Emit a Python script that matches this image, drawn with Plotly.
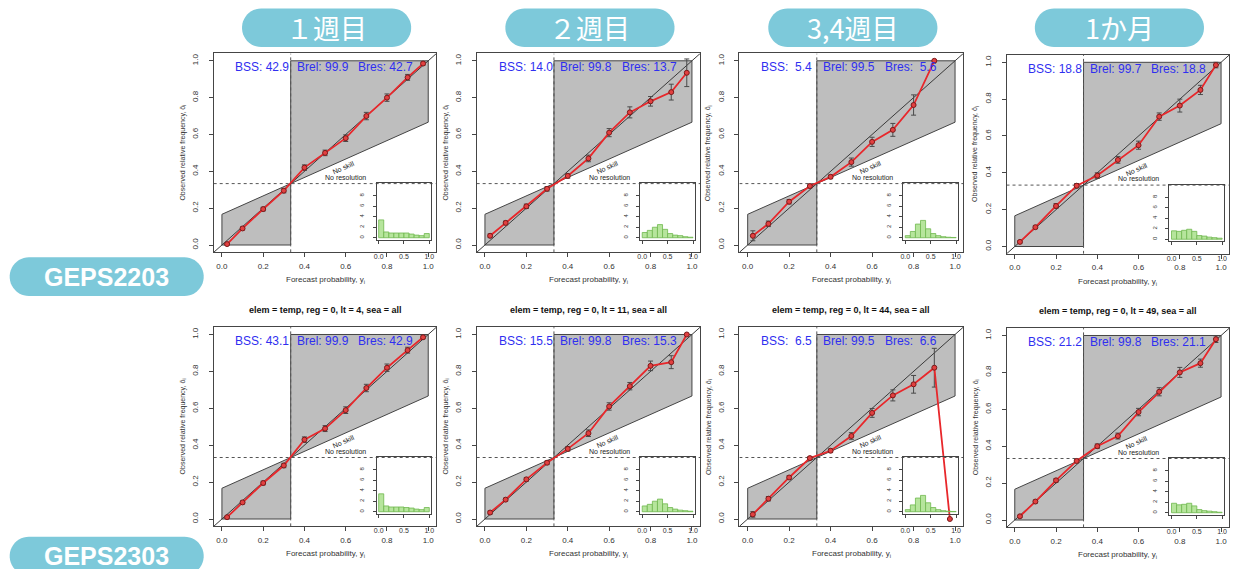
import numpy as np
import plotly.graph_objects as go

W, H = 1237, 569

# ---------------------------------------------------------------- data
prob_bins = [0.025, 0.1, 0.2, 0.3, 0.4, 0.5, 0.6, 0.7, 0.8, 0.9, 0.975]
hist_centers = [0.05, 0.15, 0.25, 0.35, 0.45, 0.55, 0.65, 0.75, 0.85, 0.95]
climatology = 1.0 / 3.0

col_titles = ["１週目", "２週目", "3,4週目", "1か月"]
row_titles = ["GEPS2203", "GEPS2303"]
lead_times = [4, 11, 44, 49]

# GEPS2203 : observed relative frequency, error half-width, forecast histogram
obs_2203_w1 = [0.005, 0.09, 0.195, 0.295, 0.42, 0.50, 0.58, 0.70, 0.80, 0.91, 0.985]
err_2203_w1 = [0.005, 0.008, 0.01, 0.012, 0.015, 0.015, 0.018, 0.02, 0.02, 0.016, 0.008]
hist_2203_w1 = [3.4, 1.1, 0.9, 0.9, 0.9, 0.9, 0.7, 0.5, 0.4, 0.8]

obs_2203_w2 = [0.05, 0.12, 0.21, 0.305, 0.375, 0.47, 0.61, 0.72, 0.78, 0.83, 0.935]
err_2203_w2 = [0.01, 0.01, 0.012, 0.012, 0.012, 0.018, 0.022, 0.03, 0.026, 0.043, 0.075]
hist_2203_w2 = [1.0, 1.4, 2.0, 2.5, 1.6, 0.8, 0.5, 0.4, 0.2, 0.1]

obs_2203_w34 = [0.05, 0.115, 0.235, 0.32, 0.37, 0.45, 0.56, 0.625, 0.76, 1.0, None]
err_2203_w34 = [0.027, 0.015, 0.012, 0.01, 0.01, 0.022, 0.025, 0.035, 0.055, 0.0, 0.0]
hist_2203_w34 = [0.4, 1.2, 2.6, 3.3, 1.7, 0.8, 0.4, 0.2, 0.1, 0.05]

obs_2203_m1 = [0.025, 0.105, 0.22, 0.33, 0.385, 0.47, 0.55, 0.705, 0.765, 0.85, 0.985]
err_2203_m1 = [0.006, 0.008, 0.013, 0.012, 0.015, 0.018, 0.022, 0.02, 0.035, 0.025, 0.015]
hist_2203_m1 = [1.6, 1.5, 1.7, 1.9, 1.5, 0.7, 0.6, 0.4, 0.3, 0.2]

# GEPS2303
obs_2303_w1 = [0.01, 0.09, 0.195, 0.29, 0.43, 0.49, 0.59, 0.71, 0.82, 0.915, 0.985]
err_2303_w1 = [0.005, 0.008, 0.01, 0.012, 0.015, 0.016, 0.018, 0.02, 0.02, 0.016, 0.008]
hist_2303_w1 = [3.4, 1.1, 0.9, 0.9, 0.9, 0.8, 0.7, 0.5, 0.4, 0.8]

obs_2303_w2 = [0.035, 0.105, 0.215, 0.305, 0.38, 0.465, 0.61, 0.72, 0.83, 0.85, 1.0]
err_2303_w2 = [0.008, 0.008, 0.01, 0.01, 0.012, 0.018, 0.02, 0.02, 0.026, 0.035, 0.0]
hist_2303_w2 = [1.1, 1.4, 2.0, 2.4, 1.5, 0.8, 0.5, 0.3, 0.2, 0.1]

obs_2303_w34 = [0.025, 0.11, 0.225, 0.33, 0.37, 0.45, 0.575, 0.67, 0.73, 0.82, 0.0]
err_2303_w34 = [0.015, 0.012, 0.01, 0.008, 0.01, 0.018, 0.024, 0.03, 0.048, 0.105, 0.0]
hist_2303_w34 = [0.4, 1.3, 2.6, 3.1, 1.7, 0.8, 0.4, 0.2, 0.1, 0.05]

obs_2303_m1 = [0.02, 0.10, 0.215, 0.32, 0.40, 0.455, 0.585, 0.695, 0.80, 0.85, 0.98]
err_2303_m1 = [0.006, 0.008, 0.01, 0.01, 0.012, 0.016, 0.02, 0.022, 0.027, 0.022, 0.018]
hist_2303_m1 = [1.8, 1.5, 1.6, 1.8, 1.3, 0.6, 0.4, 0.3, 0.2, 0.1]

# Brier skill score and its reliability / resolution parts (%)
bss_2203 = [42.9, 14.0, 5.4, 18.8]
brel_2203 = [99.9, 99.8, 99.5, 99.7]
bres_2203 = [42.7, 13.7, 5.6, 18.8]
bss_2303 = [43.1, 15.5, 6.5, 21.2]
brel_2303 = [99.9, 99.8, 99.5, 99.8]
bres_2303 = [42.9, 15.3, 6.6, 21.1]

panels = [
    (0, 0, obs_2203_w1, err_2203_w1, hist_2203_w1),
    (0, 1, obs_2203_w2, err_2203_w2, hist_2203_w2),
    (0, 2, obs_2203_w34, err_2203_w34, hist_2203_w34),
    (0, 3, obs_2203_m1, err_2203_m1, hist_2203_m1),
    (1, 0, obs_2303_w1, err_2303_w1, hist_2303_w1),
    (1, 1, obs_2303_w2, err_2303_w2, hist_2303_w2),
    (1, 2, obs_2303_w34, err_2303_w34, hist_2303_w34),
    (1, 3, obs_2303_m1, err_2303_m1, hist_2303_m1),
]
stats = {0: (bss_2203, brel_2203, bres_2203), 1: (bss_2303, brel_2303, bres_2303)}

# ---------------------------------------------------------------- geometry (pixels)
col_x0 = [220.0, 484.3, 748.3, 1016.7]      # pixel of forecast prob = 0
col_xu = [207.3, 208.0, 208.4, 207.3]       # pixels per unit
row_y0 = [[245.0, 245.0, 245.0, 246.5], [519.0, 519.0, 519.0, 520.0]]
row_yu = [184.2, 184.5]

FONT = "Liberation Sans, Arial, sans-serif"
JFONT = "Noto Sans CJK JP, sans-serif"
PILL = "#7DC9DA"
BLUE = "#2F2FF0"
GREY_FILL = "#BEBEBE"
EDGE = "#454545"
RED = "#E8272B"


def px_to_paper_x(p):
    return p / W


def px_to_paper_y(p):
    return 1 - p / H


def nb(s):
    return s.replace(" ", "\u00a0")


fig = go.Figure()
layout = {}
annotations = []
shapes = []


def ax_name(kind, k):
    return kind if k == 1 else f"{kind}{k}"


def ref(kind, k):
    return kind[0] if k == 1 else f"{kind[0]}{k}"


for idx, (r, c, obs, err, hist) in enumerate(panels):
    k = idx + 1
    ki = idx + 9
    x0, xu = col_x0[c], col_xu[c]
    y0, yu = row_y0[r][c], row_yu[r]

    xr, yr = ref("x", k), ref("y", k)
    xir, yir = ref("x", ki), ref("y", ki)

    dom_x = [px_to_paper_x(x0 - 0.04 * xu), px_to_paper_x(x0 + 1.04 * xu)]
    dom_y = [px_to_paper_y(y0 + 0.04 * yu), px_to_paper_y(y0 - 1.04 * yu)]

    layout[ax_name("xaxis", k)] = dict(
        domain=dom_x, range=[-0.04, 1.04], anchor=yr,
        tickvals=[0, 0.2, 0.4, 0.6, 0.8, 1.0],
        ticktext=["0.0", "0.2", "0.4", "0.6", "0.8", "1.0"],
        ticks="outside", ticklen=4, tickcolor=EDGE, tickwidth=1,
        showline=True, mirror=True, linecolor=EDGE, linewidth=1,
        showgrid=False, zeroline=False, ticklabelstandoff=2,
        tickfont=dict(family=FONT, size=8, color="#333"),
    )
    layout[ax_name("yaxis", k)] = dict(
        domain=dom_y, range=[-0.04, 1.04], anchor=xr,
        tickvals=[0, 0.2, 0.4, 0.6, 0.8, 1.0],
        ticktext=["0.0", "0.2", "0.4", "0.6", "0.8", "1.0"],
        tickangle=-90,
        ticks="outside", ticklen=4, tickcolor=EDGE, tickwidth=1,
        showline=True, mirror=True, linecolor=EDGE, linewidth=1,
        showgrid=False, zeroline=False, ticklabelstandoff=7,
        tickfont=dict(family=FONT, size=8, color="#333"),
    )

    # skill regions (below and above climatology)
    cl = climatology
    fig.add_trace(go.Scatter(
        x=[0, cl, cl, 0, 0], y=[0, 0, cl, cl / 2, 0],
        fill="toself", fillcolor=GREY_FILL, mode="lines",
        line=dict(color=EDGE, width=1), xaxis=xr, yaxis=yr,
        hoverinfo="skip", showlegend=False))
    fig.add_trace(go.Scatter(
        x=[cl, cl, 1, 1, cl], y=[cl, 1, 1, (1 + cl) / 2, cl],
        fill="toself", fillcolor=GREY_FILL, mode="lines",
        line=dict(color=EDGE, width=1), xaxis=xr, yaxis=yr,
        hoverinfo="skip", showlegend=False))
    # climatology reference lines
    fig.add_trace(go.Scatter(
        x=[-0.04, 1.04], y=[cl, cl], mode="lines",
        line=dict(color="#555", width=1, dash="dot"), xaxis=xr, yaxis=yr,
        hoverinfo="skip", showlegend=False))
    fig.add_trace(go.Scatter(
        x=[cl, cl], y=[-0.04, 1.04], mode="lines",
        line=dict(color="#555", width=1, dash="dot"), xaxis=xr, yaxis=yr,
        hoverinfo="skip", showlegend=False))
    # perfect reliability diagonal
    fig.add_trace(go.Scatter(
        x=[-0.04, 1.04], y=[-0.04, 1.04], mode="lines",
        line=dict(color="#3A3A3A", width=1), xaxis=xr, yaxis=yr,
        hoverinfo="skip", showlegend=False))
    # reliability curve
    fig.add_trace(go.Scatter(
        x=prob_bins, y=obs, mode="lines+markers",
        line=dict(color=RED, width=1.8),
        marker=dict(size=5, color="#E24040", line=dict(color="#7A1A1A", width=1)),
        error_y=dict(type="data", array=err, color="#4A4A4A", thickness=1, width=2.5),
        xaxis=xr, yaxis=yr, showlegend=False, connectgaps=False))

    # score labels
    bss, brel, bres = (s[c] for s in stats[r])
    for xv, label in [(0.056, f"BSS: {bss:4.1f}"),
                      (0.353, f"Brel: {brel:4.1f}"),
                      (0.652, f"Bres: {bres:4.1f}")]:
        annotations.append(dict(
            x=xv, y=0.965, xref=xr, yref=yr, text=nb(label), showarrow=False,
            xanchor="left", yanchor="middle",
            font=dict(family=FONT, size=12, color=BLUE)))

    angle = -np.degrees(np.arctan(0.5 * yu / xu))
    annotations.append(dict(
        x=0.59, y=0.42, xref=xr, yref=yr, text="No skill", showarrow=False,
        textangle=angle, font=dict(family=FONT, size=7, color="#222")))
    annotations.append(dict(
        x=0.60, y=0.368, xref=xr, yref=yr, text="No resolution", showarrow=False,
        font=dict(family=FONT, size=7, color="#222")))

    # axis titles
    annotations.append(dict(
        x=0.5, y=0, xref=f"{xr} domain", yref=f"{yr} domain",
        text="Forecast probability, y<sub>i</sub>", showarrow=False,
        yanchor="middle", yshift=-28,
        font=dict(family=FONT, size=8, color="#333")))
    annotations.append(dict(
        x=0, y=0.5, xref=f"{xr} domain", yref=f"{yr} domain",
        text="Observed relative frequency, \u014d<sub>i</sub>", showarrow=False,
        textangle=-90, xanchor="center", xshift=-31,
        font=dict(family=FONT, size=7, color="#333")))
    if r == 1:
        annotations.append(dict(
            x=0.5, y=1, xref=f"{xr} domain", yref=f"{yr} domain",
            text=f"<b>elem = temp, reg = 0, lt = {lead_times[c]}, sea = all</b>",
            showarrow=False, yanchor="middle", yshift=17,
            font=dict(family=FONT, size=9, color="#111")))

    # inset histogram of forecast probabilities
    ix = [px_to_paper_x(x0 + 0.75 * xu), px_to_paper_x(x0 + 1.015 * xu)]
    iy = [px_to_paper_y(y0 - 0.028 * yu), px_to_paper_y(y0 - 0.336 * yu)]
    layout[ax_name("xaxis", ki)] = dict(
        domain=ix, range=[-0.04, 1.04], anchor=yir,
        tickvals=[0, 0.5, 1.0], ticktext=["0.0", "0.5", "1.0"],
        ticks="outside", ticklen=3, tickcolor=EDGE, tickwidth=1,
        showline=True, mirror=True, linecolor=EDGE, linewidth=1,
        showgrid=False, zeroline=False, ticklabelstandoff=7,
        tickfont=dict(family=FONT, size=7, color="#333"),
    )
    layout[ax_name("yaxis", ki)] = dict(
        domain=iy, range=[-0.4, 10.4], anchor=xir,
        tickvals=[0, 2, 4, 6, 8], tickangle=-90,
        ticks="outside", ticklen=3, tickcolor=EDGE, tickwidth=1,
        showline=True, mirror=True, linecolor=EDGE, linewidth=1,
        showgrid=False, zeroline=False, ticklabelstandoff=6,
        tickfont=dict(family=FONT, size=6, color="#333"),
    )
    fig.add_trace(go.Bar(
        x=hist_centers, y=hist, width=0.1,
        marker=dict(color="#B6E59C", line=dict(color="#6FB84E", width=0.8)),
        xaxis=xir, yaxis=yir, showlegend=False))


def stadium(x0, y0, x1, y1, n=24):
    rr = (y1 - y0) / 2
    cy = (y0 + y1) / 2
    pts = []
    for t in np.linspace(-np.pi / 2, np.pi / 2, n):
        pts.append((x1 - rr + rr * np.cos(t), cy + rr * np.sin(t)))
    for t in np.linspace(np.pi / 2, 3 * np.pi / 2, n):
        pts.append((x0 + rr + rr * np.cos(t), cy + rr * np.sin(t)))
    path = "M " + " L ".join(f"{px_to_paper_x(a):.5f},{px_to_paper_y(b):.5f}" for a, b in pts) + " Z"
    return dict(type="path", path=path, xref="paper", yref="paper",
                fillcolor=PILL, line=dict(width=0), layer="above")


# column header pills
for c, title in enumerate(col_titles):
    x0, xu = col_x0[c], col_xu[c]
    cx = x0 + 0.5 * xu + 1.5
    shapes.append(stadium(cx - 85, 8.5, cx + 85, 47))
    annotations.append(dict(
        x=px_to_paper_x(cx), y=px_to_paper_y(28), xref="paper", yref="paper",
        text=title, showarrow=False, xanchor="center", yanchor="middle",
        font=dict(family=JFONT, size=27, color="white")))

# row label pills
for r, title in enumerate(row_titles):
    top = [257.3, 536.7][r]
    shapes.append(stadium(6.7, top, 201.7, top + 38.7))
    annotations.append(dict(
        x=px_to_paper_x(104.2), y=px_to_paper_y(top + 19.5), xref="paper", yref="paper",
        text=f"<b>{title}</b>", showarrow=False, xanchor="center", yanchor="middle",
        font=dict(family=FONT, size=25, color="white")))

fig.update_layout(
    width=W, height=H, margin=dict(l=0, r=0, t=0, b=0),
    paper_bgcolor="white", plot_bgcolor="rgba(0,0,0,0)",
    showlegend=False, annotations=annotations, shapes=shapes,
    **layout,
)

fig.write_html("out.html", config={"displayModeBar": False})
